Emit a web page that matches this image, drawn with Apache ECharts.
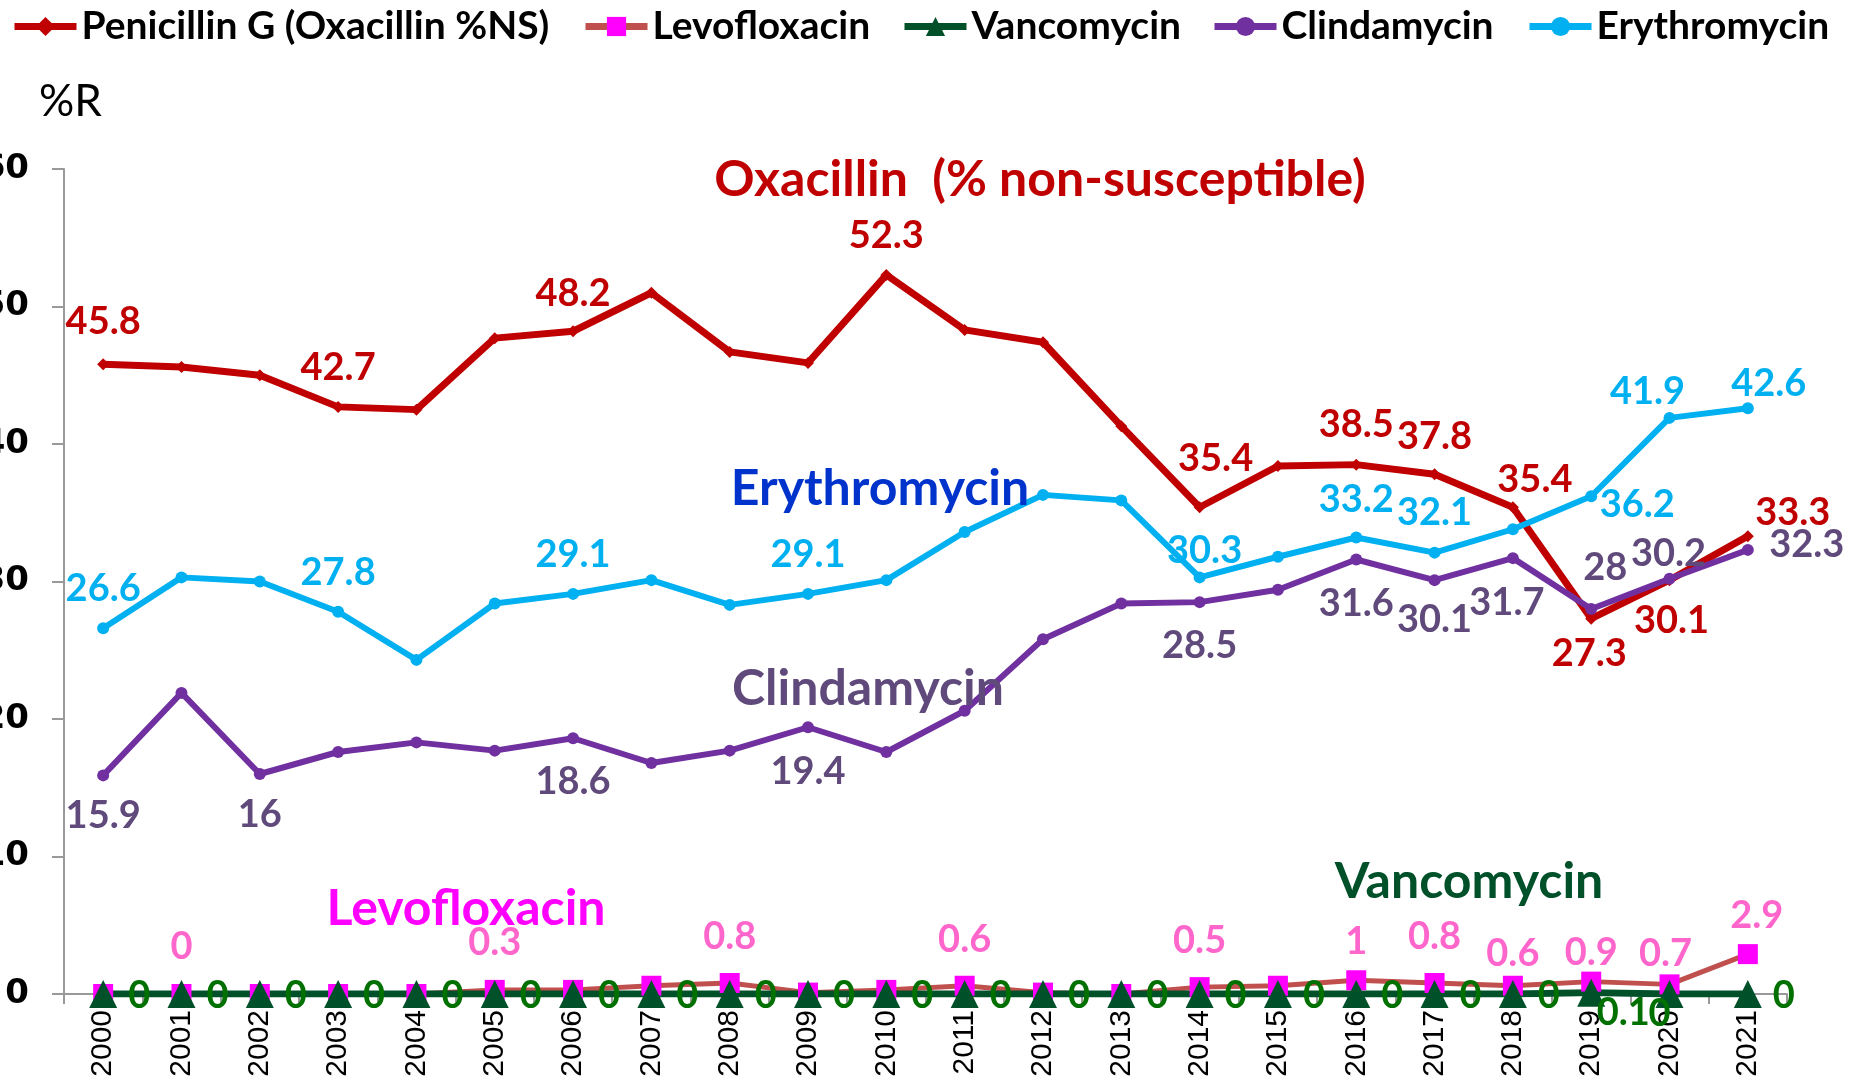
<!DOCTYPE html>
<html>
<head>
<meta charset="utf-8">
<title>%R by year</title>
<script src="https://cdn.jsdelivr.net/npm/echarts@6/dist/echarts.min.js"></script>
<style>
	html, body { margin: 0; padding: 0; background: #fff; }
	#chart { width: 1849px; height: 1084px; }
</style>
</head>
<body>
<div id="chart"></div>
<script>
// values
var years = ['2000', '2001', '2002', '2003', '2004', '2005', '2006', '2007', '2008', '2009', '2010',
	'2011', '2012', '2013', '2014', '2015', '2016', '2017', '2018', '2019', '2020', '2021'];

var oxacillin = [45.8, 45.6, 45.0, 42.7, 42.5, 47.7, 48.2, 51.0, 46.7, 45.9, 52.3,
	48.3, 47.4, 41.3, 35.4, 38.4, 38.5, 37.8, 35.4, 27.3, 30.1, 33.3];
var levofloxacin = [0, 0, 0, 0, 0, 0.3, 0.3, 0.6, 0.8, 0.1, 0.3,
	0.6, 0.1, 0, 0.5, 0.6, 1, 0.8, 0.6, 0.9, 0.7, 2.9];
var vancomycin = [0, 0, 0, 0, 0, 0, 0, 0, 0, 0, 0,
	0, 0, 0, 0, 0, 0, 0, 0, 0.1, 0, 0];
var clindamycin = [15.9, 21.9, 16, 17.6, 18.3, 17.7, 18.6, 16.8, 17.7, 19.4, 17.6,
	20.6, 25.8, 28.4, 28.5, 29.4, 31.6, 30.1, 31.7, 28, 30.2, 32.3];
var erythromycin = [26.6, 30.3, 30.0, 27.8, 24.3, 28.4, 29.1, 30.1, 28.3, 29.1, 30.1,
	33.6, 36.3, 35.9, 30.3, 31.8, 33.2, 32.1, 33.8, 36.2, 41.9, 42.6];

var seriesNames = ['Penicillin G (Oxacillin %NS)', 'Levofloxacin', 'Vancomycin', 'Clindamycin', 'Erythromycin'];

// which points carry a value label, and where it sits relative to the marker
var oxaSpots = { 0: [0, -43], 3: [0, -39], 6: [0, -38], 10: [0, -39], 14: [16, -49], 16: [0, -40],
	17: [0, -38], 18: [22, -28], 19: [-2, 35], 20: [2, 41], 21: [45, -23] };
var levoSpots = { 1: [0, -47], 5: [0, -47], 8: [0, -46], 11: [0, -46], 14: [0, -46], 16: [0, -39],
	17: [0, -46], 18: [0, -32], 19: [0, -29], 20: [-4, -31], 21: [9, -38] };
var vancSpots = {};
years.forEach(function (y, i) { vancSpots[i] = [36, 2]; });
vancSpots[19] = [32, 20];
vancSpots[20] = [-10, 20];
var clindaSpots = { 0: [0, 40], 2: [0, 41], 6: [0, 43], 9: [0, 44], 14: [0, 44], 16: [0, 44],
	17: [0, 40], 18: [-6, 45], 19: [14, -41], 20: [-1, -25], 21: [59, -5] };
var erythSpots = { 0: [0, -40], 3: [0, -39], 6: [0, -39], 9: [0, -39], 14: [5, -27], 16: [0, -38],
	17: [0, -40], 19: [46, 8], 20: [-22, -26], 21: [21, -25] };

var labelFont = 'Lato, "Open Sans", sans-serif';

function withLabels(values, spots, color) {
	return values.map(function (v, i) {
		var spot = spots[i];
		if (!spot) {
			return { value: v, label: { show: false } };
		}
		return {
			value: v,
			label: {
				show: true,
				position: 'inside',
				offset: spot,
				color: color,
				fontFamily: labelFont,
				fontWeight: 'bold',
				fontSize: 38
			}
		};
	});
}

function lineSeries(name, values, spots, lineColor, markColor, labelColor, symbol, size, width) {
	return {
		name: name,
		type: 'line',
		data: withLabels(values, spots, labelColor),
		symbol: symbol,
		symbolSize: size,
		showAllSymbol: true,
		lineStyle: { color: lineColor, width: width },
		itemStyle: { color: markColor },
		emphasis: { disabled: true },
		z: 2
	};
}

function oneLegend(name, left) {
	return {
		data: [name],
		left: left,
		top: 2,
		itemWidth: 62,
		itemHeight: 24,
		lineStyle: { width: 7 },
		textStyle: { fontFamily: labelFont, fontWeight: 'bold', fontSize: 39, color: '#000' }
	};
}

function note(text, x, y, color) {
	return {
		type: 'text',
		x: x,
		y: y,
		style: {
			text: text,
			fill: color,
			font: 'bold 50px ' + labelFont,
			textAlign: 'center',
			textVerticalAlign: 'middle'
		},
		z: 10
	};
}

var chart = echarts.init(document.getElementById('chart'));

var option = {
	animation: false,
	backgroundColor: '#fff',
	legend: [
		oneLegend(seriesNames[0], 6),
		oneLegend(seriesNames[1], 577),
		oneLegend(seriesNames[2], 896),
		oneLegend(seriesNames[3], 1206),
		oneLegend(seriesNames[4], 1521)
	],
	grid: { left: 64, right: 62, top: 169, bottom: 90, outerBoundsMode: 'none' },
	xAxis: {
		type: 'category',
		data: years,
		boundaryGap: true,
		axisLine: { lineStyle: { color: '#999', width: 2 } },
		axisTick: { show: true, length: 10, interval: 0, lineStyle: { color: '#999', width: 2 } },
		axisLabel: {
			interval: 0,
			rotate: 90,
			margin: 16,
			color: '#000',
			fontFamily: '"Liberation Sans", Arial, sans-serif',
			fontSize: 30
		}
	},
	yAxis: {
		type: 'value',
		min: 0,
		max: 60,
		interval: 10,
		splitLine: { show: false },
		axisLine: { show: true, lineStyle: { color: '#999', width: 2 } },
		axisTick: { show: true, length: 12, lineStyle: { color: '#999', width: 2 } },
		axisLabel: {
			margin: 35,
			color: '#000',
			fontFamily: '"DejaVu Sans", sans-serif',
			fontWeight: 'bold',
			fontSize: 34
		}
	},
	graphic: [
		{
			type: 'text',
			x: 39,
			y: 102,
			style: { text: '%R', fill: '#000', font: '44px ' + labelFont, textVerticalAlign: 'middle' }
		},
		note('Oxacillin  (% non-susceptible)', 1040, 180, '#C00000'),
		note('Erythromycin', 880, 489, '#0033CC'),
		note('Clindamycin', 868, 689, '#604A7B'),
		note('Levofloxacin', 466, 909, '#FF00FF'),
		note('Vancomycin', 1469, 882, '#00502A')
	],
	series: [
		lineSeries(seriesNames[0], oxacillin, oxaSpots, '#C00000', '#C00000', '#C00000', 'diamond', 12, 7),
		lineSeries(seriesNames[1], levofloxacin, levoSpots, '#C0504D', '#FF00FF', '#FF66CC', 'rect', 20, 5),
		lineSeries(seriesNames[2], vancomycin, vancSpots, '#00502A', '#00502A', '#007000', 'triangle', 28, 7),
		lineSeries(seriesNames[3], clindamycin, clindaSpots, '#7030A0', '#7030A0', '#604A7B', 'circle', 12, 6),
		lineSeries(seriesNames[4], erythromycin, erythSpots, '#00B0F0', '#00B0F0', '#00B0F0', 'circle', 12, 6)
	]
};

chart.setOption(option);
</script>
</body>
</html>
